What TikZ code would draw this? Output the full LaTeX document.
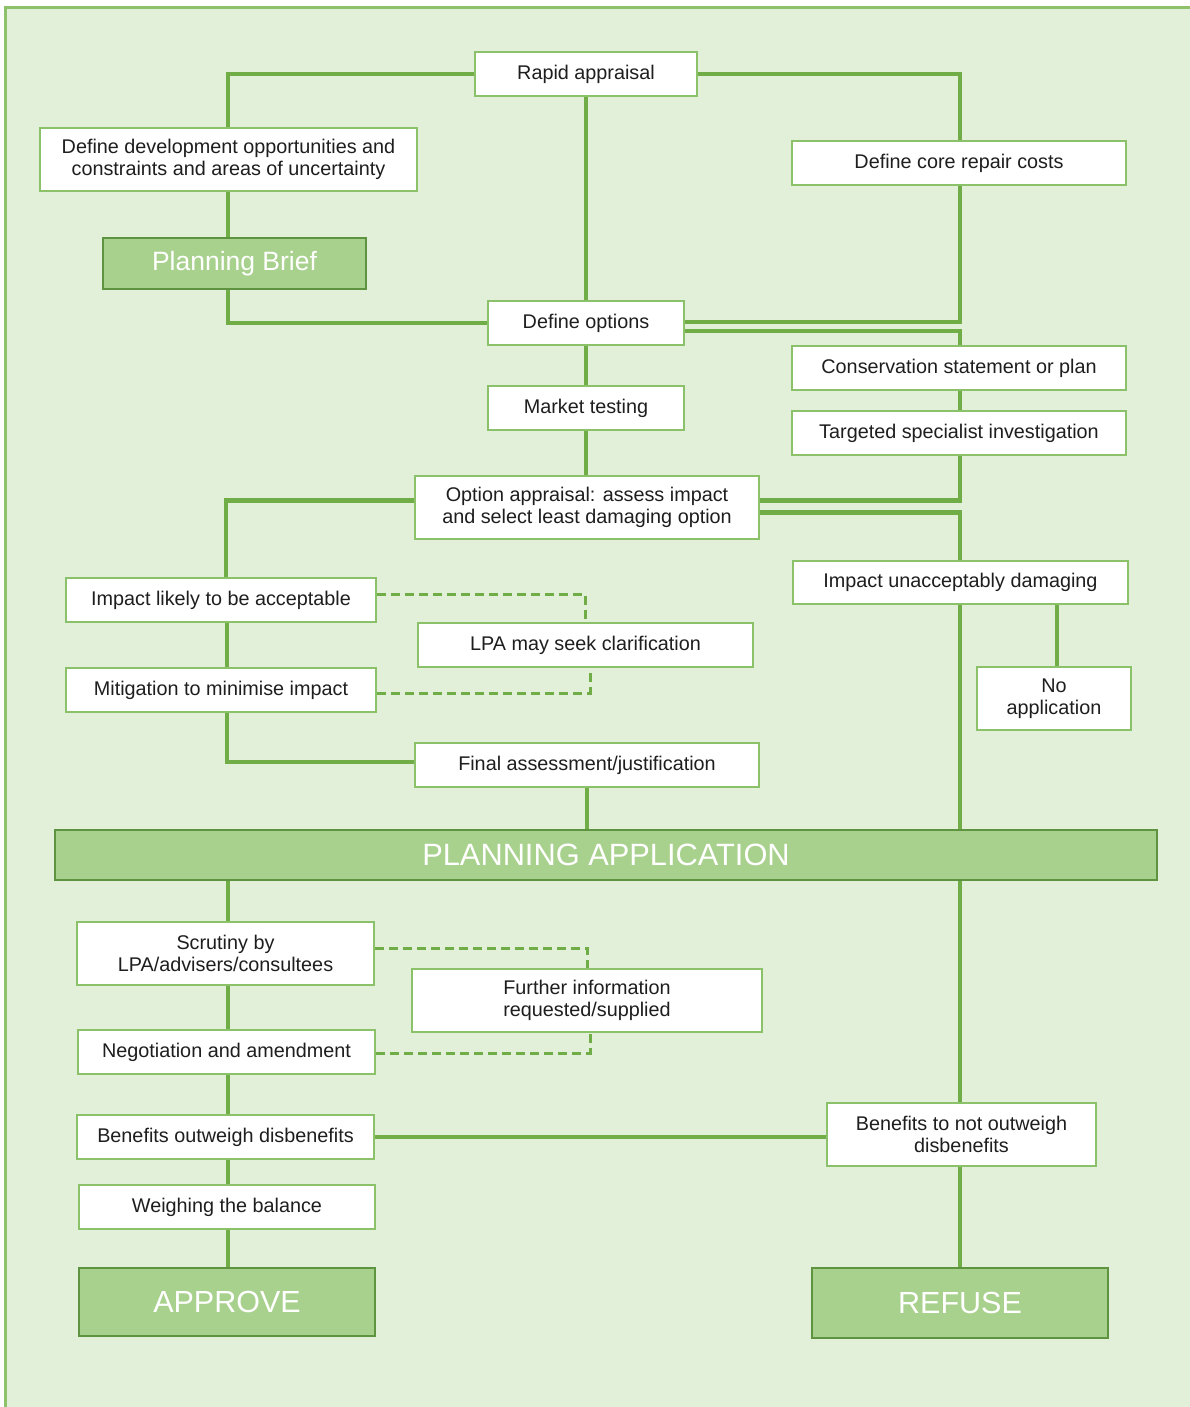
\documentclass[tikz,border=0pt]{standalone}
\usepackage{fontspec}
\setmainfont{Liberation Sans}
\usetikzlibrary{backgrounds}
\definecolor{bg}{HTML}{E2EFD9}
\definecolor{frm}{HTML}{8DC26B}
\definecolor{ln}{HTML}{70AD47}
\definecolor{bx}{HTML}{8BC168}
\definecolor{dk}{HTML}{A9D18E}
\definecolor{dkb}{HTML}{5E9440}
\definecolor{tx}{HTML}{1E1E1E}
\begin{document}
\begin{tikzpicture}[x=1pt,y=-1pt,
  box/.style={draw=bx, line width=2.2pt, fill=white, inner sep=0pt, align=center, text=tx,
    font=\fontsize{19.8}{22.5}\selectfont},
  hbox/.style={draw=dkb, line width=2.6pt, fill=dk, inner sep=0pt, align=center, text=white},
  conn/.style={draw=ln, line width=4.5pt},
  dconn/.style={draw=ln, line width=3pt, dash pattern=on 9pt off 5pt}]
\useasboundingbox (0,0) rectangle (1190,1407);
% nodes
\node[box, minimum width=222, minimum height=44] (ra) at (586,74) {Rapid appraisal};
\node[box, minimum width=377, minimum height=63] (dd) at (228.5,159.5) {Define development opportunities and\\constraints and areas of uncertainty};
\node[hbox, minimum width=263, minimum height=51, font=\fontsize{26.5}{30}\selectfont] (pb) at (234.5,263.5) {Planning Brief};
\node[box, minimum width=334, minimum height=44] (dc) at (959,163) {Define core repair costs};
\node[box, minimum width=196, minimum height=44] (do) at (586,323) {Define options};
\node[box, minimum width=334, minimum height=44] (cs) at (959,368) {Conservation statement or plan};
\node[box, minimum width=196, minimum height=44] (mt) at (586,408) {Market testing};
\node[box, minimum width=334, minimum height=44] (ts) at (959,433) {Targeted specialist investigation};
\node[box, minimum width=344, minimum height=63] (oa) at (587,507.5) {Option appraisal: assess impact\\and select least damaging option};
\node[box, minimum width=310, minimum height=44] (il) at (221,600) {Impact likely to be acceptable};
\node[box, minimum width=335, minimum height=43] (iu) at (960.5,582.5) {Impact unacceptably damaging};
\node[box, minimum width=335, minimum height=44] (lpa) at (585.5,645) {LPA may seek clarification};
\node[box, minimum width=310, minimum height=44] (mi) at (221,690) {Mitigation to minimise impact};
\node[box, minimum width=154, minimum height=63] (na) at (1054,698.5) {No\\application};
\node[box, minimum width=344, minimum height=44] (fa) at (587,765) {Final assessment/justification};
\node[hbox, minimum width=1102, minimum height=50, font=\fontsize{30.8}{34}\selectfont] (pa) at (606,855) {PLANNING APPLICATION};
\node[box, minimum width=297, minimum height=63] (sc) at (225.5,953.5) {Scrutiny by\\LPA/advisers/consultees};
\node[box, minimum width=350, minimum height=63] (fi) at (587,1000.5) {Further information\\requested/supplied};
\node[box, minimum width=297, minimum height=44] (ng) at (226.5,1052) {Negotiation and amendment};
\node[box, minimum width=297, minimum height=44] (bo) at (225.5,1137) {Benefits outweigh disbenefits};
\node[box, minimum width=269, minimum height=63] (bn) at (961.5,1134.5) {Benefits to not outweigh\\disbenefits};
\node[box, minimum width=296, minimum height=44] (wb) at (227,1207) {Weighing the balance};
\node[hbox, minimum width=296, minimum height=68, font=\fontsize{30.5}{34}\selectfont] (ap) at (227,1302) {APPROVE};
\node[hbox, minimum width=296, minimum height=70, font=\fontsize{30.5}{34}\selectfont] (rf) at (960,1303) {REFUSE};
\coordinate (L) at (228,0);
\coordinate (R) at (960,0);
\begin{scope}[on background layer]
\fill[white] (0,0) rectangle (1190,1407);
\fill[bg] (5,8) rectangle (1190,1407);
\draw[frm, line width=3pt] (5,1407) -- (5,8) -- (1190,8);
% connectors
\draw[conn] (ra.west) -| (dd.north -| L);
\draw[conn] (ra.east) -| (dc.north -| R);
\draw[conn] (ra.south) -- (do.north);
\draw[conn] (dd.south -| L) -- (pb.north -| L);
\draw[conn] (pb.south -| L) |- (do.west);
\draw[conn] ([yshift=1pt]do.east) -| (dc.south -| R);
\draw[conn] ([yshift=-8pt]do.east) -| (cs.north -| R);
\draw[conn] (cs.south -| R) -- (ts.north -| R);
\draw[conn] ([yshift=7pt]oa.east) -| (ts.south -| R);
\draw[conn] ([yshift=-5pt]oa.east) -| (iu.north -| R);
\draw[conn] (do.south) -- (mt.north);
\draw[conn] (mt.south) -- (mt.south |- oa.north);
\draw[conn] ([yshift=7pt]oa.west) -| ([xshift=5pt]il.north);
\draw[conn] ([xshift=6pt]il.south) -- ([xshift=6pt]mi.north);
\draw[conn] ([xshift=6pt]mi.south) |- ([yshift=3pt]fa.west);
\draw[dconn] ([yshift=6pt]il.east) -| (lpa.north);
\draw[dconn] ([yshift=-3pt]mi.east) -| ([xshift=4.5pt]lpa.south);
\draw[conn] (fa.south) -- (fa.south |- pa.north);
\draw[conn] (iu.south -| R) -- (pa.north -| R);
\draw[conn] ([xshift=3pt]na.north) -- ([xshift=3pt]na.north |- iu.south);
\draw[conn] (pa.south -| L) -- (sc.north -| L);
\draw[conn] (pa.south -| R) -- (bn.north -| R);
\draw[conn] (sc.south -| L) -- (ng.north -| L);
\draw[dconn] ([yshift=5.5pt]sc.east) -| (fi.north);
\draw[dconn] ([yshift=-1pt]ng.east) -| ([xshift=3pt]fi.south);
\draw[conn] (ng.south -| L) -- (bo.north -| L);
\draw[conn] (bo.east) -- (bo.east -| bn.west);
\draw[conn] (bo.south -| L) -- (wb.north -| L);
\draw[conn] (wb.south -| L) -- (ap.north -| L);
\draw[conn] (bn.south -| R) -- (rf.north -| R);
\end{scope}
\end{tikzpicture}
\end{document}
